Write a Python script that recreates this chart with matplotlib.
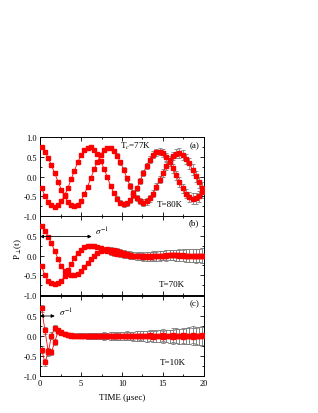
import matplotlib
matplotlib.use("Agg")
from matplotlib import pyplot as plt
from matplotlib.ticker import MultipleLocator

plt.rcParams['font.family'] = ['Liberation Serif', 'DejaVu Serif']
plt.rcParams['mathtext.fontset'] = 'stix'
plt.rcParams['axes.unicode_minus'] = False

# muon time grid (microseconds)
time_us = [0.2, 0.6, 1.0, 1.4, 1.8, 2.2, 2.6, 3.0, 3.4, 3.8,
           4.2, 4.6, 5.0, 5.4, 5.8, 6.2, 6.6, 7.0, 7.4, 7.8,
           8.2, 8.6, 9.0, 9.4, 9.8, 10.2, 10.6, 11.0, 11.4, 11.8,
           12.2, 12.6, 13.0, 13.4, 13.8, 14.2, 14.6, 15.0, 15.4, 15.8,
           16.2, 16.6, 17.0, 17.4, 17.8, 18.2, 18.6, 19.0, 19.4, 19.8]

# (a) T = 80K
a_x = [0.75, 0.63, 0.47, 0.28, 0.08, -0.13, -0.33, -0.50, -0.64, -0.73,
       -0.75, -0.71, -0.61, -0.45, -0.26, -0.04, 0.18, 0.38, 0.55, 0.67,
       0.73, 0.72, 0.65, 0.53, 0.36, 0.17, -0.04, -0.24, -0.41, -0.55,
       -0.63, -0.66, -0.63, -0.55, -0.43, -0.26, -0.08, 0.10, 0.27, 0.42,
       0.52, 0.58, 0.59, 0.54, 0.45, 0.33, 0.17, 0.01, -0.15, -0.29]
a_y = [-0.29, -0.49, -0.64, -0.73, -0.76, -0.73, -0.63, -0.48, -0.29, -0.07,
       0.15, 0.36, 0.54, 0.66, 0.73, 0.74, 0.68, 0.57, 0.40, 0.20,
       -0.01, -0.23, -0.41, -0.56, -0.66, -0.70, -0.68, -0.60, -0.47, -0.30,
       -0.11, 0.09, 0.27, 0.43, 0.55, 0.61, 0.63, 0.59, 0.50, 0.37,
       0.21, 0.03, -0.14, -0.30, -0.43, -0.52, -0.56, -0.55, -0.50, -0.40]
a_err = [0.03, 0.03, 0.03, 0.03, 0.03, 0.035, 0.035, 0.035, 0.035, 0.035,
         0.035, 0.04, 0.04, 0.04, 0.045, 0.045, 0.045, 0.05, 0.05, 0.05,
         0.05, 0.05, 0.055, 0.055, 0.06, 0.06, 0.065, 0.065, 0.07, 0.07,
         0.075, 0.08, 0.08, 0.085, 0.09, 0.09, 0.095, 0.1, 0.1, 0.105,
         0.11, 0.115, 0.12, 0.12, 0.125, 0.13, 0.135, 0.14, 0.145, 0.15]

# (b) T = 70K
b_x = [0.74, 0.62, 0.48, 0.31, 0.11, -0.08, -0.27, -0.40, -0.47, -0.50,
       -0.50, -0.46, -0.38, -0.29, -0.19, -0.09, 0.00, 0.07, 0.12, 0.15,
       0.16, 0.15, 0.13, 0.11, 0.08, 0.06, 0.04, 0.02, 0.00, -0.01,
       -0.02, -0.03, -0.03, -0.03, -0.02, -0.02, -0.01, 0.00, 0.00, 0.01,
       0.01, 0.01, 0.01, 0.01, 0.00, 0.00, 0.00, 0.00, 0.00, 0.00]
b_y = [-0.27, -0.50, -0.64, -0.70, -0.72, -0.70, -0.64, -0.52, -0.37, -0.21,
       -0.06, 0.06, 0.15, 0.21, 0.24, 0.25, 0.24, 0.22, 0.19, 0.15,
       0.12, 0.09, 0.07, 0.05, 0.03, 0.02, 0.01, 0.00, -0.01, -0.02,
       -0.02, -0.02, -0.02, -0.02, -0.01, -0.01, 0.00, 0.00, 0.01, 0.01,
       0.01, 0.01, 0.00, 0.00, 0.00, 0.00, -0.01, -0.01, 0.00, 0.00]
b_err = [0.03, 0.03, 0.03, 0.03, 0.035, 0.035, 0.035, 0.035, 0.04, 0.04,
         0.04, 0.04, 0.045, 0.045, 0.045, 0.05, 0.05, 0.05, 0.055, 0.055,
         0.06, 0.065, 0.07, 0.07, 0.075, 0.08, 0.085, 0.09, 0.09, 0.095,
         0.1, 0.105, 0.11, 0.11, 0.115, 0.12, 0.12, 0.125, 0.13, 0.13,
         0.135, 0.14, 0.145, 0.15, 0.155, 0.16, 0.165, 0.17, 0.175, 0.18]

# (c) T = 10K
c_x = [0.69, 0.14, -0.38, -0.40, -0.15, 0.12, 0.10, 0.05, 0.03, 0.02,
       0.01, 0.01, 0.00, 0.01, 0.00, 0.00, 0.01, 0.00, 0.00, 0.01,
       0.00, 0.00, 0.01, 0.00, 0.00, 0.00, 0.01, 0.00, 0.00, 0.00,
       0.01, 0.00, -0.01, 0.02, 0.00, -0.01, 0.01, 0.02, 0.00, -0.01,
       0.02, 0.01, -0.01, 0.02, 0.00, 0.01, 0.03, 0.01, 0.00, 0.02]
c_y = [-0.34, -0.66, -0.41, 0.01, 0.20, 0.15, 0.08, 0.04, 0.02, 0.01,
       0.00, 0.00, 0.01, 0.00, 0.00, -0.01, 0.00, 0.00, 0.00, -0.01,
       0.00, 0.00, 0.00, -0.01, 0.00, 0.00, 0.00, 0.00, -0.01, 0.00,
       0.00, -0.01, -0.01, 0.00, -0.02, 0.00, -0.01, -0.02, 0.00, -0.01,
       -0.02, 0.00, -0.01, -0.02, -0.01, 0.00, -0.02, -0.01, 0.00, -0.01]
c_err = [0.08, 0.09, 0.09, 0.08, 0.07, 0.06, 0.055, 0.05, 0.05, 0.05,
         0.055, 0.055, 0.06, 0.06, 0.065, 0.07, 0.07, 0.075, 0.08, 0.08,
         0.085, 0.09, 0.09, 0.095, 0.1, 0.1, 0.105, 0.11, 0.11, 0.115,
         0.12, 0.125, 0.13, 0.135, 0.14, 0.145, 0.15, 0.155, 0.16, 0.165,
         0.17, 0.18, 0.185, 0.19, 0.2, 0.21, 0.215, 0.22, 0.23, 0.24]

fig = plt.figure(figsize=(3.18, 4.14), dpi=100)
left, width = 0.1258, 0.5157
ax_a = fig.add_axes([left, 0.4758, width, 0.1908])
ax_b = fig.add_axes([left, 0.2850, width, 0.1908])
ax_c = fig.add_axes([left, 0.0894, width, 0.1932])


def draw(ax, ys, err):
    for y in ys:
        ax.errorbar(time_us, y, yerr=err, fmt='none', ecolor='#808080',
                    elinewidth=0.6, capsize=1.7, capthick=0.6, zorder=1)
    for y in ys:
        ax.plot(time_us, y, color='red', lw=0.6, marker='s', ms=2.8,
                mec='red', mfc='red', zorder=3)
    ax.set_xlim(0, 20)
    ax.set_ylim(-1, 1)
    ax.xaxis.set_major_locator(MultipleLocator(5))
    ax.xaxis.set_minor_locator(MultipleLocator(2.5))
    ax.yaxis.set_major_locator(MultipleLocator(0.5))
    ax.yaxis.set_minor_locator(MultipleLocator(0.25))
    ax.tick_params(which='both', direction='in', top=True, right=True,
                   width=0.6, labelsize=6, pad=2)
    ax.tick_params(which='major', length=3)
    ax.tick_params(which='minor', length=1.6)
    for s in ax.spines.values():
        s.set_linewidth(0.7)


draw(ax_a, [a_x, a_y], a_err)
draw(ax_b, [b_x, b_y], b_err)
draw(ax_c, [c_x, c_y], c_err)

ax_a.set_yticks([-1, -0.5, 0, 0.5, 1])
ax_a.set_yticklabels(['-1.0', '-0.5', '0.0', '0.5', '1.0'])
for ax in (ax_b, ax_c):
    ax.set_yticks([-1, -0.5, 0, 0.5, 1])
    ax.set_yticklabels(['-1.0', '-0.5', '0.0', '0.5', ''])
for ax in (ax_a, ax_b):
    ax.tick_params(labelbottom=False)
ax_c.set_xticks([0, 5, 10, 15, 20])

fs = 6.5
ax_a.text(9.75, 0.80, 'T$_c$=77K', fontsize=fs, va='center')
ax_a.text(18.8, 0.80, '(a)', fontsize=fs, ha='center', va='center')
ax_a.text(14.3, -0.70, 'T=80K', fontsize=fs, va='center')

ax_b.text(18.7, 0.85, '(b)', fontsize=fs, ha='center', va='center')
ax_b.text(16.1, -0.72, 'T=70K', fontsize=fs, ha='center', va='center')
ax_b.annotate('', xy=(6.3, 0.48), xytext=(0, 0.48),
              arrowprops=dict(arrowstyle='<|-|>', color='black', lw=0.6,
                              mutation_scale=5, shrinkA=0, shrinkB=0))
ax_b.text(6.7, 0.62, r'$\sigma^{-1}$', fontsize=fs, va='center')

ax_c.text(18.8, 0.81, '(c)', fontsize=fs, ha='center', va='center')
ax_c.text(16.2, -0.64, 'T=10K', fontsize=fs, ha='center', va='center')
ax_c.annotate('', xy=(1.8, 0.5), xytext=(0, 0.5),
              arrowprops=dict(arrowstyle='<|-|>', color='black', lw=0.6,
                              mutation_scale=5, shrinkA=0, shrinkB=0))
ax_c.text(2.3, 0.60, r'$\sigma^{-1}$', fontsize=fs, va='center')

fig.text(0.057, 0.399, r'P$_\perp$(t)', fontsize=fs, rotation=90,
         ha='center', va='center')
fig.text(122 / 318, 1 - 398 / 414, u'TIME (\u03bcsec)', fontsize=fs,
         ha='center', va='center')

fig.savefig('out.png', dpi=100)
